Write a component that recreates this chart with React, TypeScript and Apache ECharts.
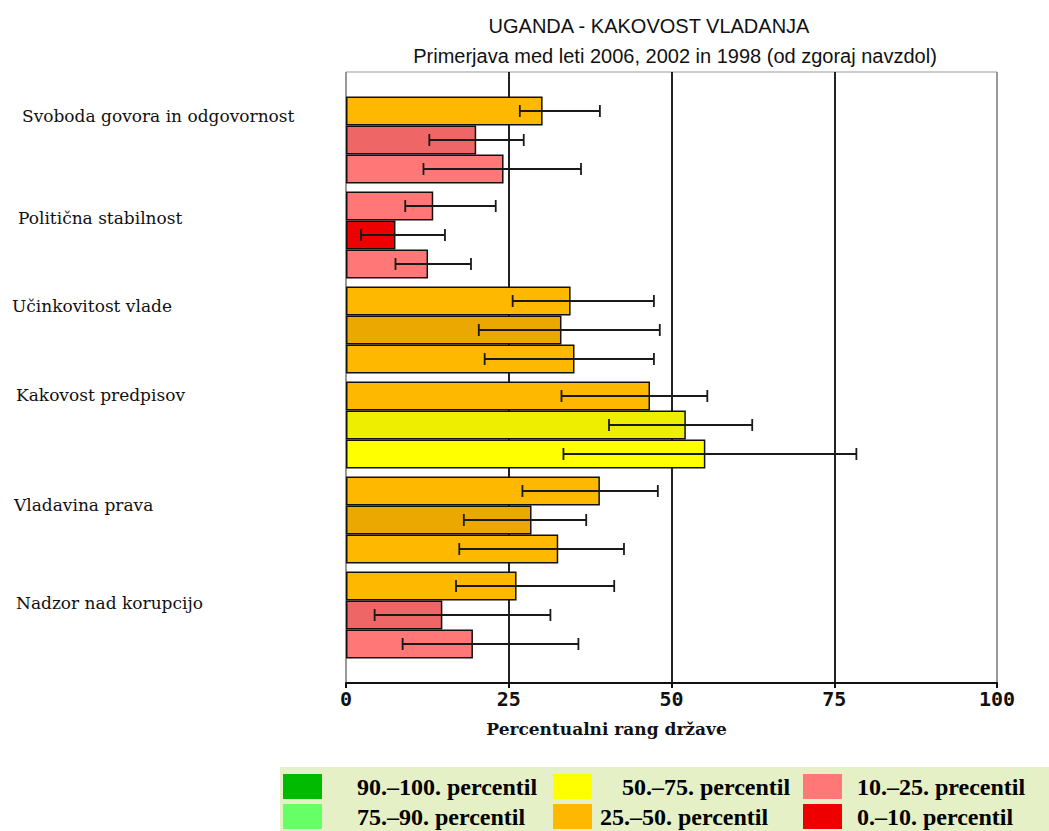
import React, { useEffect, useRef } from 'react';
import * as echarts from 'echarts';

const categories = [
  'Svoboda govora in odgovornost',
  'Politična stabilnost',
  'Učinkovitost vlade',
  'Kakovost predpisov',
  'Vladavina prava',
  'Nadzor nad korupcijo',
];
const years = ['2006', '2002', '1998'];

const v2006 = [30.2, 13.4, 34.5, 46.7, 39.0, 26.2];
const v2002 = [20.0, 7.6, 33.1, 52.2, 28.5, 14.8];
const v1998 = [24.2, 12.6, 35.1, 55.2, 32.6, 19.5];

const lo2006 = [26.7, 9.1, 25.6, 33.1, 27.1, 16.9];
const hi2006 = [39.0, 23.0, 47.3, 55.5, 47.9, 41.2];
const lo2002 = [12.8, 2.3, 20.4, 40.4, 18.1, 4.4];
const hi2002 = [27.3, 15.2, 48.2, 62.4, 36.9, 31.4];
const lo1998 = [11.9, 7.6, 21.3, 33.4, 17.4, 8.7];
const hi1998 = [36.1, 19.2, 47.3, 78.4, 42.7, 35.7];

const xTicks = [0, 25, 50, 75, 100];

const legendNames = [
  '90.–100. percentil',
  '75.–90. percentil',
  '50.–75. percentil',
  '25.–50. percentil',
  '10.–25. precentil',
  '0.–10. percentil',
];
const legendColors = ['#00BB00', '#66FF66', '#FFFF00', '#FFB800', '#FF7777', '#EE0000'];
// darker shade used for the middle (2002) bars
const darkerShade: Record<string, string> = {
  '#FFFF00': '#EEEE00',
  '#FFB800': '#EBA800',
  '#FF7777': '#EE6666',
  '#EE0000': '#EE0000',
  '#66FF66': '#55EE55',
  '#00BB00': '#00AA00',
};

function classColor(v: number): string {
  if (v >= 90) return legendColors[0];
  if (v >= 75) return legendColors[1];
  if (v >= 50) return legendColors[2];
  if (v >= 25) return legendColors[3];
  if (v >= 10) return legendColors[4];
  return legendColors[5];
}

const BAR_W = 29;

// per-label position tweaks [shiftUp, padLeft]
const labelShift = [
  [24, 10],
  [17, 6],
  [24, 0],
  [30, 4],
  [15, 2],
  [12, 4],
];

export default function App() {
  const ref = useRef<HTMLDivElement>(null);
  useEffect(() => {
    const chart = echarts.init(ref.current!, null, { renderer: 'svg' });

    const values = [v2006, v2002, v1998];
    const los = [lo2006, lo2002, lo1998];
    const his = [hi2006, hi2002, hi1998];

    const barSeries = values.map((arr, s) => ({
      name: years[s],
      type: 'bar',
      xAxisIndex: 1,
      yAxisIndex: 1,
      barWidth: BAR_W,
      barGap: '0%',
      itemStyle: { borderColor: '#111', borderWidth: 1.5 },
      data: arr.map((v) => ({
        value: v,
        itemStyle: { color: s === 1 ? darkerShade[classColor(v)] : classColor(v) },
      })),
      z: 2,
    }));

    const errData: number[][] = [];
    for (let s = 0; s < 3; s++) {
      for (let i = 0; i < categories.length; i++) {
        errData.push([los[s][i], his[s][i], i, s]);
      }
    }

    const errSeries = {
      type: 'custom',
      xAxisIndex: 1,
      yAxisIndex: 1,
      encode: { x: [0, 1], y: 2 },
      data: errData,
      z: 5,
      renderItem: (params: any, api: any) => {
        const lo = api.value(0);
        const hi = api.value(1);
        const cat = api.value(2);
        const slot = api.value(3);
        const p1 = api.coord([lo, cat]);
        const p2 = api.coord([hi, cat]);
        const y = p1[1] + (slot - 1) * BAR_W;
        const style = { stroke: '#1a1a1a', lineWidth: 1.8 };
        return {
          type: 'group',
          children: [
            { type: 'line', shape: { x1: p1[0], y1: y, x2: p2[0], y2: y }, style },
            { type: 'line', shape: { x1: p1[0], y1: y - 6, x2: p1[0], y2: y + 6 }, style },
            { type: 'line', shape: { x1: p2[0], y1: y - 6, x2: p2[0], y2: y + 6 }, style },
          ],
        };
      },
    };

    const dummySeries = legendNames.map((n, i) => ({
      name: n,
      type: 'line',
      xAxisIndex: 0,
      yAxisIndex: 0,
      data: [],
      itemStyle: { color: legendColors[i] },
      lineStyle: { color: legendColors[i] },
    }));

    const rich: Record<string, any> = {};
    labelShift.forEach(([up, pl], i) => {
      rich['l' + i] = {
        fontFamily: 'DejaVu Serif',
        fontSize: 17,
        color: '#111',
        padding: [0, 0, up * 2, pl],
      };
    });

    const legendText = {
      fontFamily: 'Liberation Serif',
      fontWeight: 'bold',
      fontSize: 24,
      color: '#000',
    };
    const legendCommon = {
      orient: 'vertical',
      icon: 'rect',
      itemWidth: 39,
      itemHeight: 25,
      itemGap: 5,
      padding: 0,
      selectedMode: false,
      textStyle: legendText,
      z: 10,
    };

    chart.setOption({
      animation: false,
      backgroundColor: '#fff',
      title: [
        {
          text: 'UGANDA - KAKOVOST VLADANJA',
          left: 644,
          top: 11,
          textAlign: 'center',
          textStyle: { fontFamily: 'Liberation Sans', fontSize: 20, fontWeight: 'normal', color: '#111' },
        },
        {
          text: 'Primerjava med leti 2006, 2002 in 1998 (od zgoraj navzdol)',
          left: 670,
          top: 41,
          textAlign: 'center',
          textStyle: { fontFamily: 'Liberation Sans', fontSize: 20, fontWeight: 'normal', color: '#111' },
        },
      ],
      legend: [
        {
          ...legendCommon,
          left: 283,
          top: 774,
          data: [
            { name: legendNames[0], textStyle: { padding: [0, 0, 0, 30] } },
            { name: legendNames[1], textStyle: { padding: [0, 0, 0, 30] } },
          ],
        },
        {
          ...legendCommon,
          left: 553,
          top: 774,
          data: [
            { name: legendNames[2], textStyle: { padding: [0, 0, 0, 25] } },
            { name: legendNames[3], textStyle: { padding: [0, 0, 0, 3] } },
          ],
        },
        {
          ...legendCommon,
          left: 803,
          top: 774,
          data: [
            { name: legendNames[4], textStyle: { padding: [0, 0, 0, 10] } },
            { name: legendNames[5], textStyle: { padding: [0, 0, 0, 10] } },
          ],
        },
      ],
      graphic: [
        {
          type: 'rect',
          z: 0,
          shape: { x: 280, y: 767, width: 769, height: 64 },
          style: { fill: '#E6F0C6' },
        },
      ],
      grid: [
        { left: 346, right: 52, top: 72, bottom: 148, show: true, borderColor: '#999', borderWidth: 1, backgroundColor: 'transparent' },
        { left: 346, right: 52, top: 92.5, bottom: 168.5 },
      ],
      xAxis: [
        {
          gridIndex: 0,
          type: 'value',
          min: xTicks[0],
          max: xTicks[xTicks.length - 1],
          interval: 25,
          axisLine: { show: true, lineStyle: { color: '#111', width: 2 } },
          axisTick: { show: true, length: 5, lineStyle: { color: '#111', width: 2 } },
          axisLabel: {
            fontFamily: 'DejaVu Sans Mono',
            fontWeight: 'bold',
            fontSize: 20,
            color: '#111',
            margin: 6,
          },
          splitLine: {
            show: true,
            lineStyle: { color: ['#999', '#222', '#222', '#222', '#999'], width: 2 },
          },
          name: 'Percentualni rang države',
          nameLocation: 'middle',
          nameGap: 37,
          nameTextStyle: {
            fontFamily: 'DejaVu Serif',
            fontWeight: 'bold',
            fontSize: 17,
            color: '#111',
            padding: [0, 130, 0, 0],
          },
        },
        { gridIndex: 1, type: 'value', min: 0, max: 100, show: false },
      ],
      yAxis: [
        { gridIndex: 0, type: 'value', min: 0, max: 1, show: false },
        {
          gridIndex: 1,
          type: 'category',
          data: categories,
          inverse: true,
          axisLine: { show: false },
          axisTick: { show: false },
          splitLine: { show: false },
          axisLabel: {
            align: 'left',
            margin: 334,
            fontFamily: 'DejaVu Serif',
            fontSize: 17,
            color: '#111',
            formatter: (value: string, index: number) => `{l${index}|${value}}`,
            rich,
          },
        },
      ],
      series: [...barSeries, errSeries, ...dummySeries],
    });
    return () => chart.dispose();
  }, []);
  return <div ref={ref} style={{ position: 'absolute', left: 0, top: 0, width: 1049, height: 831 }} />;
}
